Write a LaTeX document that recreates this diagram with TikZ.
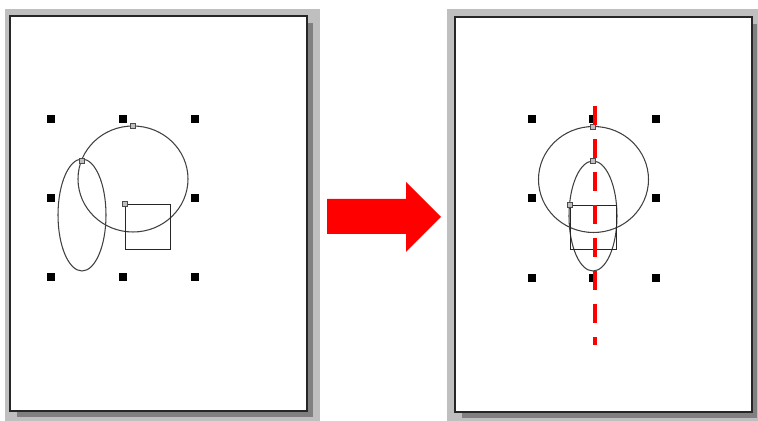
\documentclass[tikz,border=0pt]{standalone}
\usetikzlibrary{positioning}

\tikzset{
  handle/.style={rectangle, fill=black, inner sep=0pt, minimum size=0.15cm},
  marker/.style={rectangle, draw=black!70, fill=black!25, line width=0.4pt, inner sep=0pt, minimum size=0.09cm},
  outline/.style={draw=black!75, line width=0.6pt},
  box/.style={draw=black!85, line width=0.55pt},
  page/.style={draw=black!85, fill=white, line width=1pt},
  cutline/.style={red, line width=0.08cm, dash pattern=on 0.38cm off 0.28cm}
}

\begin{document}
\begin{tikzpicture}[x=0.02cm, y=-0.02cm]
  \useasboundingbox (0,0) rectangle (758,421);

  % the two sheets with their shadows
  \fill[black!25] (5,9) rectangle (320,421);
  \fill[black!50] (17,23) rectangle (313,417);
  \draw[page] (10,16) rectangle (307,411);
  \fill[black!25] (447,9) rectangle (758,421);
  \fill[black!50] (462,24) rectangle (757,418);
  \draw[page] (455,17) rectangle (752,412);

  % before: selection handles and shapes
  \node[handle] (la) at (51,119) {};
  \node[handle] (lb) at (123,119) {};
  \node[handle] (lc) at (195,119) {};
  \node[handle] (ld) at (51,198) {};
  \node[handle] (le) at (195,198) {};
  \node[handle] (lf) at (51,277) {};
  \node[handle] (lg) at (123,277) {};
  \node[handle] (lh) at (195,277) {};
  \draw[outline] (133,179) ellipse [x radius=55, y radius=53];
  \draw[outline] (82,215) ellipse [x radius=24, y radius=56];
  \draw[box] (125,204) rectangle (170,249);
  \node[marker] (lm1) at (133,126) {};
  \node[marker] (lm2) at (82,161) {};
  \node[marker] (lm3) at (125,204) {};

  % arrow between the sheets
  \fill[red] (327,199) -- (406,199) -- (406,182) -- (441,217) -- (406,252) -- (406,234) -- (327,234) -- cycle;

  % after: shapes centred on one axis
  \node[handle] (ra) at (532,119) {};
  \node[handle] (rb) at (593,119) {};
  \node[handle] (rc) at (656,119) {};
  \node[handle] (rd) at (532,198) {};
  \node[handle] (re) at (656,198) {};
  \node[handle] (rf) at (532,278) {};
  \node[handle] (rg) at (593,278) {};
  \node[handle] (rh) at (656,278) {};
  \draw[outline] (593.5,179.5) ellipse [x radius=55, y radius=53];
  \draw[outline] (593,216) ellipse [x radius=24, y radius=55];
  \draw[box] (570,205) rectangle (616,249);
  \node[marker] (rm1) at (593,127) {};
  \node[marker] (rm2) at (593,161) {};
  \node[marker] (rm3) at (570,205) {};

  \coordinate (axtop) at (595,106);
  \coordinate (axbot) at (595,345);
  \draw[cutline] (axtop) -- (axbot);
\end{tikzpicture}
\end{document}
